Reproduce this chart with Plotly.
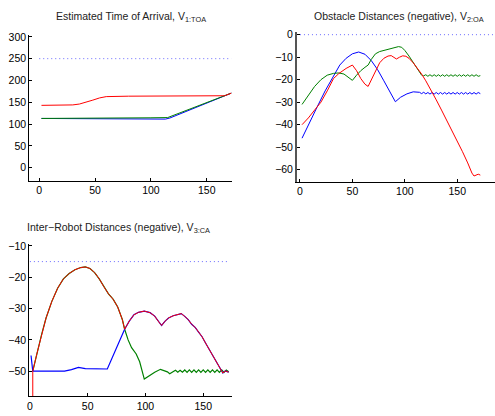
import plotly.graph_objects as go

# ---------------- Data ----------------
# Panel 1: Estimated Time of Arrival
toa_red_x = [2, 20, 30, 36, 42, 48, 54, 60, 80, 100, 120, 140, 160, 166, 172]
toa_red_y = [143, 143, 144, 146, 150, 155, 160, 163, 164, 164.5, 165, 165, 165, 165, 171]
toa_green_x = [2, 50, 80, 100, 115, 172]
toa_green_y = [113, 113, 113.5, 114.5, 115, 171]
toa_blue_x = [2, 60, 90, 105, 113, 117, 172]
toa_blue_y = [113, 113, 112.5, 112, 111.5, 114, 171]
toa_limit_x = [0, 172]
toa_limit_y = [250, 250]

# Panel 2: Obstacle distances (negative)
oa_blue_x = [2, 8, 16, 24, 32, 38, 44, 50, 56, 62, 68, 74, 80, 86, 91, 96, 102, 108, 114,
             116, 118, 120, 122, 124, 126, 128, 130, 132, 134, 136, 138, 140, 142, 144, 146,
             148, 150, 152, 154, 156, 158, 160, 162, 164, 166, 168, 170, 172]
oa_blue_y = [-46, -40.5, -32.5, -25, -18.5, -13.5, -10.5, -8.5, -7.7, -8.7, -11.5, -15.5, -20.5,
             -25.5, -29.8, -27.8, -26.3, -25.4, -25.6,
             -26.2, -25.6, -26.3, -25.7, -26.4, -25.7, -26.4, -25.7, -26.4, -25.7, -26.4, -25.7,
             -26.4, -25.7, -26.4, -25.7, -26.4, -25.7, -26.4, -25.7, -26.4, -25.7, -26.4, -25.7,
             -26.4, -25.7, -26.4, -25.7, -26.2]
oa_green_x = [2, 8, 14, 20, 26, 32, 37, 42, 46, 50, 54, 58, 62, 65, 68, 72, 76, 82, 88, 94, 97,
              100, 104, 108, 112, 116,
              118, 120, 122, 124, 126, 128, 130, 132, 134, 136, 138, 140, 142, 144, 146, 148,
              150, 152, 154, 156, 158, 160, 162, 164, 166, 168, 170, 172]
oa_green_y = [-31, -27, -23, -20, -18, -17.2, -17, -17.5, -18.8, -20.3, -18, -16, -14.5, -13.5,
              -11, -8.5, -7.5, -6.8, -6, -5.3, -5.6, -7, -9.5, -12.5, -15.5, -18,
              -18.3, -17.8, -18.5, -17.8, -18.5, -17.8, -18.5, -17.8, -18.5, -17.8, -18.5, -17.8,
              -18.5, -17.8, -18.5, -17.8, -18.5, -17.8, -18.5, -17.8, -18.5, -17.8, -18.5, -17.8,
              -18.5, -17.8, -18.5, -18.2]
oa_red_x = [2, 8, 14, 20, 26, 32, 37, 44, 50, 54, 58, 62, 65, 68, 72, 76, 80, 84, 87, 90, 92, 95,
            98, 101, 104, 108, 112, 116, 120, 125, 130, 135, 140, 145, 150, 155, 160, 164, 166,
            168, 170, 172]
oa_red_y = [-40, -37, -33.5, -30, -25, -19.5, -17.3, -15, -13.5, -16, -19.5, -22, -23, -20, -16,
            -12.5, -10.5, -9.5, -9.3, -10.3, -10.8, -10, -9.4, -9.6, -10.5, -12.5, -14.8, -17.5,
            -20.5, -24.5, -29, -33.5, -38, -42.5, -47, -52, -57, -61.5, -62.8, -62.3, -62, -62.4]
oa_limit_x = [0, 190]
oa_limit_y = [0, 0]

# Panel 3: Inter-robot distances (negative)
ca_upper_x = [2.5, 6, 10, 14, 19, 24, 29, 34, 39, 44, 48, 52, 56, 60, 64, 68, 72, 76, 80, 82]
ca_upper_y = [-50, -44.5, -38.5, -33, -27.7, -23.5, -20.5, -18.8, -17.6, -16.9, -16.7, -17.2,
              -18.5, -20.5, -23, -25.3, -27, -29.5, -33.5, -36.6]
ca_hump_x = [86, 90, 94, 99, 104, 108, 111, 114, 117, 120, 124, 128, 131, 134, 137, 140, 143,
             146, 149, 152, 155, 158, 161, 164, 167, 169, 172]
ca_hump_y = [-34, -32, -31.2, -30.8, -31.3, -32.4, -34, -35.4, -34, -33, -32.3, -31.8, -31.6,
             -32.5, -33.5, -35, -36, -37.5, -39, -41, -43, -45, -47, -49, -50.6, -49.9, -50.3]
ca_green_tail_x = [85, 88, 92, 95, 99, 103, 108, 113, 116, 119, 121, 124,
                   126, 128, 130, 132, 134, 136, 138, 140, 142, 144, 146, 148, 150, 152, 154,
                   156, 158, 160, 162, 164, 166, 168, 170, 172]
ca_green_tail_y = [-40, -42.5, -44.5, -47, -52.5, -51.5, -50.3, -49.4, -49.8, -50.2, -50.8, -50,
                   -49.7, -50.3, -49.7, -50.3, -49.6, -50.4, -49.6, -50.4, -49.6, -50.4, -49.6,
                   -50.4, -49.6, -50.4, -49.6, -50.4, -49.6, -50.4, -49.6, -50.4, -49.6, -50.4,
                   -49.6, -50.2]
ca_blue_head_x = [1, 2.5, 10, 20, 30, 36, 42, 48, 54, 60, 67, 82]
ca_blue_head_y = [-45, -50, -50, -50, -50, -49.5, -48.8, -49.2, -49.3, -49.3, -49.3, -36.6]
ca_red_head_x = [2.5]
ca_red_head_y = [-70]
ca_limit_x = [0, 172]
ca_limit_y = [-15, -15]

RED = "#ff0000"
GREEN = "#008000"
BLUE = "#0000ff"
DOT = "#6a6aff"

fig = go.Figure()


def line(x, y, color, xa, ya, width=1.0, dash=None):
    fig.add_trace(go.Scatter(x=x, y=y, mode="lines", xaxis=xa, yaxis=ya,
                             line=dict(color=color, width=width, dash=dash),
                             hoverinfo="skip", showlegend=False))


DOTS = "1px,3px"

# Panel 1
line(toa_limit_x, toa_limit_y, DOT, "x", "y", 1, DOTS)
line(toa_blue_x, toa_blue_y, BLUE, "x", "y")
line(toa_green_x, toa_green_y, GREEN, "x", "y")
line(toa_red_x, toa_red_y, RED, "x", "y")

# Panel 2
line(oa_limit_x, oa_limit_y, DOT, "x2", "y2", 1, DOTS)
line(oa_blue_x, oa_blue_y, BLUE, "x2", "y2")
line(oa_green_x, oa_green_y, GREEN, "x2", "y2")
line(oa_red_x, oa_red_y, RED, "x2", "y2")

# Panel 3
line(ca_limit_x, ca_limit_y, DOT, "x3", "y3", 1, DOTS)
line(ca_upper_x + ca_green_tail_x, ca_upper_y + ca_green_tail_y, GREEN, "x3", "y3", 1.2)
line(ca_blue_head_x + ca_hump_x, ca_blue_head_y + ca_hump_y, BLUE, "x3", "y3", 1.2)
line(ca_red_head_x + ca_upper_x + ca_hump_x, ca_red_head_y + ca_upper_y + ca_hump_y, RED,
     "x3", "y3", 1.0)

FONT = "Liberation Sans, Arial, Helvetica, sans-serif"
W, H = 495, 416


def ax(domain, rng, tickvals, anchor, linecolor="black", lw=1):
    return dict(domain=domain, range=rng, tickvals=tickvals, anchor=anchor,
                showline=True, linecolor=linecolor, linewidth=lw, ticks="inside",
                ticklen=3, tickcolor="black", showgrid=False, zeroline=False,
                tickfont=dict(family=FONT, size=10.5, color="black"), mirror=False)


xt = [0, 50, 100, 150]
fig.update_layout(
    width=W, height=H, margin=dict(l=0, r=0, t=0, b=0),
    paper_bgcolor="white", plot_bgcolor="white",
    xaxis=ax([27.3 / W, 230.7 / W], [-9, 172.4], xt, "y"),
    yaxis=ax([1 - 178 / H, 1 - 30 / H], [-30, 305], [0, 50, 100, 150, 200, 250, 300], "x"),
    xaxis2=ax([296 / W, 1.0], [-3, 186], xt, "y2"),
    yaxis2=ax([1 - 179 / H, 1 - 27.3 / H], [-65.4, 1.2], [-60, -50, -40, -30, -20, -10, 0],
              "x2", "#555555", 1.5),
    xaxis3=ax([27.3 / W, 230.7 / W], [-0.6, 174.7], xt, "y3"),
    yaxis3=ax([1 - 395.7 / H, 1 - 242.3 / H], [-57.9, -9.5], [-50, -40, -30, -20, -10], "x3"),
    font=dict(family=FONT, size=10.5, color="black"),
)

titles = [
    ("Estimated Time of Arrival, V<sub>1:TOA</sub>", 129.5, 12),
    ("Obstacle Distances (negative), V<sub>2:OA</sub>", 398.5, 12),
    ("Inter\u2212Robot Distances (negative), V<sub>3:CA</sub>", 117, 226),
]
for text, px, py in titles:
    fig.add_annotation(text=text, x=px / W, y=1 - py / H, xref="paper", yref="paper",
                       xanchor="center", yanchor="middle", showarrow=False,
                       font=dict(family=FONT, size=10.5, color="#222222"))

fig.write_html("out.html", config={"displayModeBar": False},
               post_script="document.body.style.margin='0px';")
